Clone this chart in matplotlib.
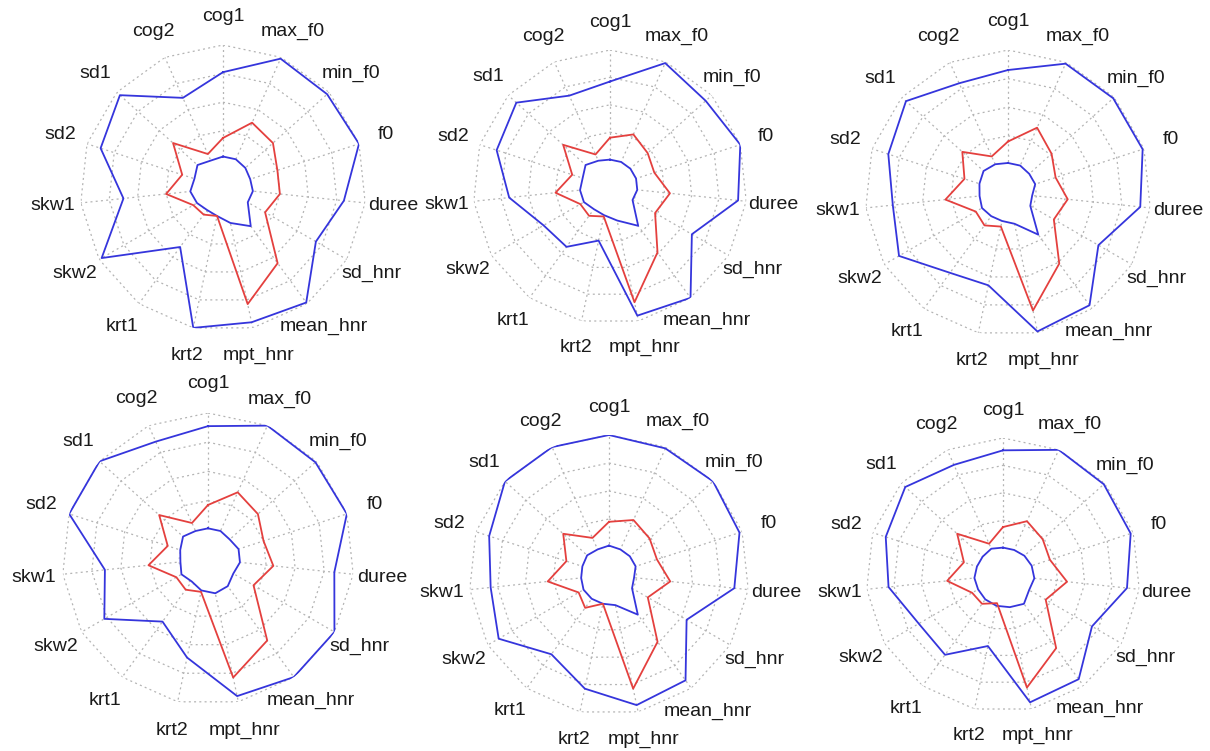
import numpy as np
import matplotlib
matplotlib.use('Agg')
import matplotlib.pyplot as plt

plt.rcParams['font.family'] = ['Liberation Sans', 'DejaVu Sans']

labels = ['cog1', 'max_f0', 'min_f0', 'f0', 'duree', 'sd_hnr', 'mean_hnr',
          'mpt_hnr', 'krt2', 'krt1', 'skw2', 'skw1', 'sd2', 'sd1', 'cog2']

# outer blue trace, one list per panel (fraction of the outer web)
outer = [
    [.81, .99, .98, 1.0, .85, .75, .99, .96, 1.0, .51, .98, .70, .90, .97, .69],
    [.77, .99, .94, 1.0, .94, .69, 1.0, .96, .40, .54, .56, .74, .87, .92, .73],
    [.86, .99, .99, .99, .93, .73, .97, .99, .66, .69, .88, .81, .88, .96, .84],
    [.91, 1.0, .99, 1.0, .87, 1.0, 1.0, .96, .69, .53, .82, .71, 1.0, 1.0, .88],
    [1.0, .99, 1.0, .98, .90, .64, .93, .95, .83, .70, .91, .85, .90, 1.0, 1.0],
    [.91, 1.0, .99, .98, .91, .75, .94, .95, .53, .72, .71, .84, .90, .96, .88],
]
# red trace
middle = [
    [.35, .50, .47, .40, .40, .34, .65, .83, .20, .23, .24, .40, .30, .47, .26],
    [.36, .42, .37, .34, .44, .38, .59, .86, .22, .26, .25, .40, .29, .46, .26],
    [.36, .50, .41, .35, .42, .37, .61, .84, .24, .28, .26, .44, .32, .43, .28],
    [.37, .50, .46, .40, .45, .36, .69, .83, .23, .26, .25, .41, .29, .45, .27],
    [.38, .43, .39, .36, .44, .32, .59, .83, .21, .29, .25, .44, .32, .44, .29],
    [.35, .43, .39, .36, .47, .36, .66, .84, .21, .26, .26, .41, .30, .45, .25],
]
# inner blue trace
inner = [
    [.22, .22, .21, .20, .21, .20, .33, .25, .20, .19, .21, .23, .21, .24, .21],
    [.20, .20, .20, .20, .20, .19, .35, .25, .21, .20, .22, .22, .21, .24, .21],
    [.21, .21, .20, .20, .17, .18, .36, .22, .20, .20, .21, .20, .21, .23, .22],
    [.21, .21, .20, .22, .22, .20, .23, .24, .22, .19, .21, .19, .20, .23, .21],
    [.21, .20, .20, .20, .18, .19, .35, .22, .21, .21, .21, .20, .20, .21, .20],
    [.20, .20, .21, .22, .23, .22, .26, .24, .23, .22, .21, .21, .20, .20, .21],
]

# web centre x, y and radius in pixels (the panels are not all the same size)
webs = [(223, 188, 143), (610, 187, 137), (1008, 193, 143),
        (208, 559, 146), (609, 575, 140), (1003, 575, 137)]

W, H = 1210, 751
fig = plt.figure(figsize=(W / 100, H / 100), dpi=100)

n = len(labels)
theta = np.linspace(0, 2 * np.pi, n, endpoint=False)
tc = np.append(theta, theta[0])

def close(v):
    return np.append(v, v[0])

grid_kw = dict(color='#b4b4b4', lw=0.9, ls=(0, (1.6, 2.6)), zorder=1)

for i, (cx, cy, r) in enumerate(webs):
    ax = fig.add_axes([(cx - r) / W, (H - cy - r) / H, 2 * r / W, 2 * r / H],
                      projection='polar')
    ax.set_theta_zero_location('N')
    ax.set_theta_direction(-1)
    ax.set_ylim(0, 1)
    ax.set_axis_off()

    # dotted polygon web
    for k in range(1, 6):
        ax.plot(tc, [k / 5] * (n + 1), **grid_kw)
    for t in theta:
        ax.plot([t, t], [0, 1], **grid_kw)

    ax.fill(tc, close(inner[i]), color='white', zorder=2)
    ax.plot(tc, close(inner[i]), color='#3535dc', lw=1.3, zorder=3)
    ax.plot(tc, close(middle[i]), color='#e4403e', lw=1.3, zorder=3)
    ax.plot(tc, close(outer[i]), color='#3535dc', lw=1.3, zorder=3)

    for t, lab in zip(theta, labels):
        ax.text(t, 1.2, lab, ha='center', va='center', fontsize=14,
                color='#1a1a1a')

fig.savefig('out.png', dpi=100)
